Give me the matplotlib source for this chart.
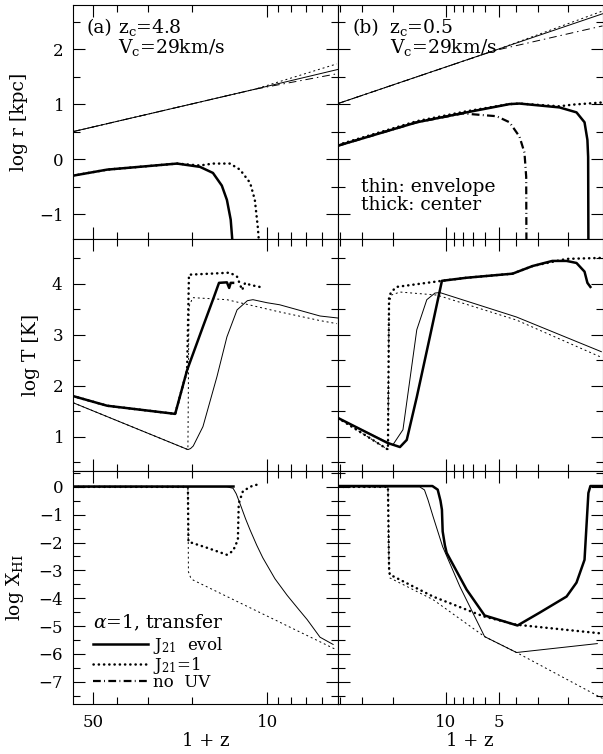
import matplotlib
matplotlib.use('Agg')
import matplotlib.pyplot as plt
from matplotlib.ticker import MultipleLocator, NullFormatter
from matplotlib.lines import Line2D

plt.rcParams['font.family'] = ['DejaVu Serif']
plt.rcParams['mathtext.fontset'] = 'dejavuserif'
plt.rcParams['axes.formatter.use_mathtext'] = True

# ---- panel (a): z_c = 4.8 ----  x values are 1+z
a_r_env_evol_zp = [60.2, 11.2, 5.19]
a_r_env_evol = [0.50, 1.27, 1.63]
a_r_env_j1_zp = [60.2, 11.2, 5.25]
a_r_env_j1 = [0.50, 1.27, 1.73]
a_r_env_nouv_zp = [60.2, 11.2, 5.25]
a_r_env_nouv = [0.50, 1.27, 1.55]
a_r_cen_evol_zp = [60.2, 43.9, 23.0, 18.6, 16.5, 15.2, 14.5, 14.0, 13.8]
a_r_cen_evol = [-0.30, -0.19, -0.08, -0.14, -0.25, -0.48, -0.74, -1.10, -1.46]
a_r_cen_j1_zp = [60.2, 43.9, 23.0, 18.6, 16.5, 14.1, 12.85, 11.7, 11.2, 10.9, 10.8]
a_r_cen_j1 = [-0.30, -0.19, -0.08, -0.115, -0.08, -0.08, -0.19, -0.43, -0.74, -1.23, -1.46]

a_T_cen_evol_zp = [60.2, 43.9, 23.4, 20.95, 18.1, 16.5, 15.6, 14.5, 14.2, 14.0, 13.7]
a_T_cen_evol = [1.80, 1.61, 1.45, 2.31, 3.16, 3.69, 4.02, 4.03, 3.92, 4.02, 4.02]
a_T_env_evol_zp = [60.2, 20.8, 20.3, 19.8, 18.1, 15.9, 14.5, 13.2, 12.0, 11.4, 10.0, 8.9, 6.13, 5.19]
a_T_env_evol = [1.67, 0.75, 0.77, 0.82, 1.20, 2.18, 2.96, 3.49, 3.67, 3.69, 3.63, 3.59, 3.37, 3.33]
a_T_env_j1_zp = [60.2, 20.8, 20.6, 19.9, 14.5, 9.1, 6.13, 5.25]
a_T_env_j1 = [1.67, 0.75, 3.55, 3.73, 3.69, 3.46, 3.28, 3.22]
a_T_cen_j1_zp = [60.2, 43.9, 23.4, 20.95, 20.6, 16.9, 14.1, 13.2, 12.6, 12.25, 11.7, 10.7]
a_T_cen_j1 = [1.80, 1.61, 1.45, 2.31, 4.18, 4.20, 4.22, 4.14, 3.88, 4.02, 3.98, 3.94]

a_X_cen_evol_zp = [60.2, 13.7]
a_X_cen_evol = [0.03, 0.03]
a_X_env_evol_zp = [60.2, 14.5, 13.7, 13.3, 12.85, 12.2, 11.7, 11.0, 10.4, 9.3, 8.3, 7.5, 6.9, 6.13, 5.43]
a_X_env_evol = [0.0, 0.0, -0.05, -0.25, -0.60, -1.15, -1.55, -2.10, -2.55, -3.30, -3.90, -4.38, -4.77, -5.40, -5.66]
a_X_env_j1_zp = [60.2, 20.8, 20.7, 20.3, 19.8, 5.3]
a_X_env_j1 = [0.0, 0.0, -3.05, -3.25, -3.35, -5.84]
a_X_cen_j1_zp = [60.2, 20.8, 20.7, 17.4, 14.5, 13.7, 13.1, 13.0, 12.5, 11.4, 10.6]
a_X_cen_j1 = [0.0, 0.0, -1.97, -2.19, -2.44, -2.30, -1.90, -0.60, -0.15, 0.05, 0.10]

# ---- panel (b): z_c = 0.5 ----
b_r_env_evol_zp = [41.0, 1.28]
b_r_env_evol = [1.01, 2.64]
b_r_env_j1_zp = [41.0, 5.3, 1.28]
b_r_env_j1 = [1.01, 1.97, 2.69]
b_r_env_nouv_zp = [41.0, 5.3, 1.28]
b_r_env_nouv = [1.01, 1.97, 2.42]
b_r_cen_evol_zp = [41.0, 14.6, 7.6, 4.33, 3.80, 2.25, 1.80, 1.62, 1.56, 1.545, 1.54]
b_r_cen_evol = [0.245, 0.67, 0.85, 1.00, 1.01, 0.94, 0.85, 0.67, 0.35, 0.04, -1.46]
b_r_cen_j1_zp = [41.0, 14.6, 7.6, 4.33, 3.80, 2.25, 1.9, 1.28]
b_r_cen_j1 = [0.26, 0.69, 0.87, 1.00, 1.01, 0.96, 0.99, 1.03]
b_r_cen_nouv_zp = [41.0, 14.6, 8.0, 6.67, 5.13, 4.33, 3.80, 3.56, 3.48, 3.47]
b_r_cen_nouv = [0.245, 0.67, 0.83, 0.81, 0.78, 0.67, 0.41, 0.12, -0.32, -1.46]

b_T_cen_evol_zp = [41.0, 21.4, 18.2, 16.65, 14.6, 12.3, 10.5, 7.6, 4.16, 3.2, 2.47, 2.05, 1.80, 1.62, 1.56, 1.50]
b_T_cen_evol = [1.37, 0.88, 0.80, 0.94, 1.78, 2.96, 4.06, 4.12, 4.20, 4.35, 4.45, 4.45, 4.41, 4.24, 4.02, 3.94]
b_T_env_evol_zp = [41.0, 20.0, 17.5, 14.6, 12.8, 11.5, 10.8, 3.95, 1.30]
b_T_env_evol = [1.37, 0.84, 1.14, 3.10, 3.69, 3.82, 3.83, 3.35, 2.67]
b_T_env_j1_zp = [41.0, 21.3, 21.0, 20.4, 18.2, 11.2, 3.95, 1.28]
b_T_env_j1 = [1.37, 0.75, 3.60, 3.78, 3.84, 3.78, 3.29, 2.55]
b_T_cen_j1_zp = [41.0, 21.3, 21.0, 20.4, 19.05, 10.5, 7.6, 4.16, 3.2, 2.05, 1.28]
b_T_cen_j1 = [1.37, 0.75, 3.75, 3.84, 3.94, 4.06, 4.12, 4.20, 4.35, 4.49, 4.51]

b_X_cen_evol_zp = [41.0, 11.9, 11.1, 10.7, 10.5, 10.4, 10.1, 9.87, 7.6, 6.0, 3.9, 2.92, 2.05, 1.80, 1.62, 1.58, 1.54, 1.50, 1.28]
b_X_cen_evol = [0.03, 0.03, -0.10, -0.50, -0.82, -1.60, -2.10, -2.37, -3.69, -4.62, -4.98, -4.52, -3.94, -3.44, -2.62, -1.43, -0.22, 0.03, 0.03]
b_X_env_evol_zp = [41.0, 14.05, 13.2, 12.6, 11.8, 10.4, 8.3, 6.0, 3.95, 1.37]
b_X_env_evol = [0.0, 0.0, -0.11, -0.47, -1.06, -2.15, -3.58, -5.38, -5.95, -5.63]
b_X_env_j1_zp = [41.0, 21.3, 21.0, 20.8, 11.8, 6.0, 3.95, 1.28]
b_X_env_j1 = [0.0, 0.0, -3.00, -3.27, -4.05, -5.38, -5.95, -7.60]
b_X_cen_j1_zp = [41.0, 21.3, 21.0, 20.8, 11.8, 6.1, 3.97, 1.28]
b_X_cen_j1 = [0.0, 0.0, -2.90, -3.15, -3.94, -4.65, -4.95, -5.27]

STY = {
    'thick_solid': dict(lw=1.8, ls='-'),
    'thick_dot': dict(lw=1.8, ls=(0, (0.1, 2.0)), dash_capstyle='round'),
    'thick_dashdot': dict(lw=1.6, ls=(0, (3.5, 1.5, 0.4, 1.5))),
    'thin_solid': dict(lw=0.7, ls='-'),
    'thin_dot': dict(lw=0.7, ls=(0, (2, 3))),
    'thin_dashdot': dict(lw=0.7, ls=(0, (8, 4, 1.5, 4))),
}

W, H = 603, 754
fig = plt.figure(figsize=(W / 100, H / 100), dpi=100)
cols = [(73, 338), (338, 602.5)]
rows = [(5, 239), (239, 471), (471, 704)]
axes = [[fig.add_axes([x0 / W, 1 - y1 / H, (x1 - x0) / W, (y1 - y0) / H])
         for (x0, x1) in cols] for (y0, y1) in rows]

xlims = [(60.2, 5.19), (41.0, 1.28)]
xmajor = [[50, 10], [10, 5]]
xminor = [[40, 30, 20, 9, 8, 7, 6], [40, 30, 20, 9, 8, 7, 6, 4, 3, 2]]
ylims = [(-1.45, 2.8), (0.33, 4.88), (-7.8, 0.57)]
ylabels = ['log r [kpc]', 'log T [K]', r'log X$_{\rm HI}$']

curves = [
    # row 0 : log r
    [[(a_r_env_evol_zp, a_r_env_evol, 'thin_solid'),
      (a_r_env_j1_zp, a_r_env_j1, 'thin_dot'),
      (a_r_env_nouv_zp, a_r_env_nouv, 'thin_dashdot'),
      (a_r_cen_j1_zp, a_r_cen_j1, 'thick_dot'),
      (a_r_cen_evol_zp, a_r_cen_evol, 'thick_solid')],
     [(b_r_env_evol_zp, b_r_env_evol, 'thin_solid'),
      (b_r_env_j1_zp, b_r_env_j1, 'thin_dot'),
      (b_r_env_nouv_zp, b_r_env_nouv, 'thin_dashdot'),
      (b_r_cen_j1_zp, b_r_cen_j1, 'thick_dot'),
      (b_r_cen_nouv_zp, b_r_cen_nouv, 'thick_dashdot'),
      (b_r_cen_evol_zp, b_r_cen_evol, 'thick_solid')]],
    # row 1 : log T
    [[(a_T_env_evol_zp, a_T_env_evol, 'thin_solid'),
      (a_T_env_j1_zp, a_T_env_j1, 'thin_dot'),
      (a_T_cen_j1_zp, a_T_cen_j1, 'thick_dot'),
      (a_T_cen_evol_zp, a_T_cen_evol, 'thick_solid')],
     [(b_T_env_evol_zp, b_T_env_evol, 'thin_solid'),
      (b_T_env_j1_zp, b_T_env_j1, 'thin_dot'),
      (b_T_cen_j1_zp, b_T_cen_j1, 'thick_dot'),
      (b_T_cen_evol_zp, b_T_cen_evol, 'thick_solid')]],
    # row 2 : log X_HI
    [[(a_X_env_evol_zp, a_X_env_evol, 'thin_solid'),
      (a_X_env_j1_zp, a_X_env_j1, 'thin_dot'),
      (a_X_cen_j1_zp, a_X_cen_j1, 'thick_dot'),
      (a_X_cen_evol_zp, a_X_cen_evol, 'thick_solid')],
     [(b_X_env_evol_zp, b_X_env_evol, 'thin_solid'),
      (b_X_env_j1_zp, b_X_env_j1, 'thin_dot'),
      (b_X_cen_j1_zp, b_X_cen_j1, 'thick_dot'),
      (b_X_cen_evol_zp, b_X_cen_evol, 'thick_solid')]],
]

for i in range(3):
    for j in range(2):
        ax = axes[i][j]
        for zp, y, kind in curves[i][j]:
            ax.plot(zp, y, color='k', **STY[kind])
        ax.set_xscale('log')
        ax.set_xlim(*xlims[j])
        ax.set_ylim(*ylims[i])
        ax.set_xticks(xmajor[j])
        ax.set_xticklabels([str(v) for v in xmajor[j]])
        ax.set_xticks(xminor[j], minor=True)
        ax.xaxis.set_minor_formatter(NullFormatter())
        ax.yaxis.set_major_locator(MultipleLocator(1))
        ax.yaxis.set_minor_locator(MultipleLocator(0.5))
        ax.tick_params(which='both', direction='in', top=True, right=True,
                       width=0.8, labelsize=12)
        ax.tick_params(which='major', length=8.5)
        ax.tick_params(which='minor', length=5)
        ax.tick_params(axis='y', pad=7)
        ax.tick_params(axis='x', pad=7)
        for s in ax.spines.values():
            s.set_linewidth(0.8)
        if i < 2:
            ax.tick_params(labelbottom=False)
        else:
            ax.set_xlabel('1 + z', fontsize=13, labelpad=1)
        if j == 1:
            ax.tick_params(labelleft=False)
        else:
            ax.set_ylabel(ylabels[i], fontsize=13.5, labelpad=8)


def ftext(x, y, s, fs=13.5):
    fig.text(x / W, 1 - y / H, s, ha='left', va='center', fontsize=fs)


ftext(87, 28, '(a)')
ftext(118, 28, r'z$_{\rm c}$=4.8')
ftext(118, 47, r'V$_{\rm c}$=29km/s')
ftext(352, 28, '(b)')
ftext(389, 28, r'z$_{\rm c}$=0.5')
ftext(390, 47, r'V$_{\rm c}$=29km/s')
ftext(361, 187, 'thin: envelope')
ftext(361, 205, 'thick: center')
ftext(93, 623, r'$\alpha$=1, transfer', fs=13.5)

handles = [Line2D([], [], color='k', **STY['thick_solid']),
           Line2D([], [], color='k', **STY['thick_dot']),
           Line2D([], [], color='k', **STY['thick_dashdot'])]
labels = [r'J$_{21}$  evol', r'J$_{21}$=1', 'no  UV']
axes[2][0].legend(handles, labels,
                  loc='lower left', bbox_to_anchor=(0.075, 0.055),
                  frameon=False, fontsize=12,
                  handlelength=3.3, handletextpad=0.3, labelspacing=-0.08,
                  borderpad=0, borderaxespad=0)

fig.savefig('out.png', dpi=100)
